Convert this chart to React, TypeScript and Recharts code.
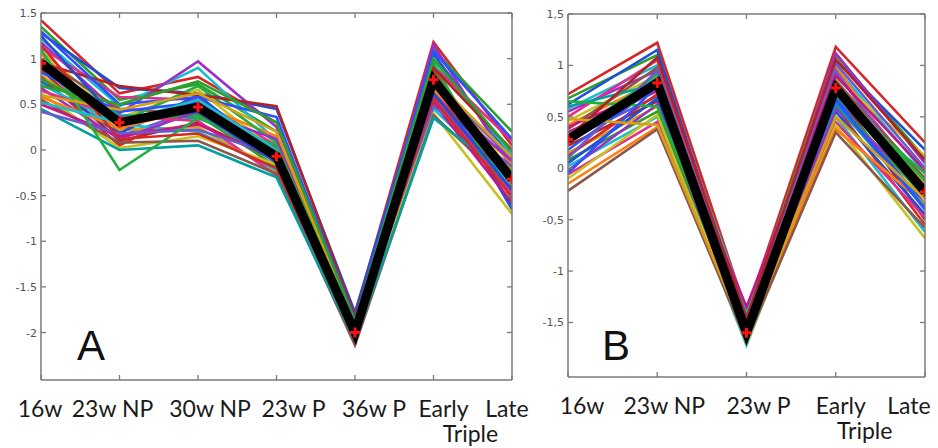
import React from 'react';
import { LineChart, Line, XAxis, YAxis } from 'recharts';

// ---------- data ----------
const categoriesA = ['16w', '23w NP', '30w NP', '23w P', '36w P', 'Early\nTriple', 'Late'];
const categoriesB = ['16w', '23w NP', '23w P', 'Early\nTriple', 'Late'];

const meanA = [0.95, 0.3, 0.47, -0.07, -2.0, 0.77, -0.32];
const meanB = [0.28, 0.83, -1.6, 0.78, -0.23];

const yTicksA = [1.5, 1, 0.5, 0, -0.5, -1, -1.5, -2];
const yTicksB = [1.5, 1, 0.5, 0, -0.5, -1, -1.5];

const profilesA = [
  [1.42, 0.62, 0.8, 0.3, -1.8, 1.18, 0.05],
  [1.35, 0.55, 0.72, 0.2, -1.85, 1.1, 0.2],
  [1.28, 0.68, 0.62, 0.45, -1.78, 1.05, -0.1],
  [1.22, 0.48, 0.9, 0.1, -1.9, 0.98, -0.05],
  [1.18, 0.4, 0.97, 0.25, -1.95, 1.15, -0.2],
  [1.12, 0.58, 0.55, 0.05, -1.88, 0.92, 0.1],
  [1.08, 0.35, 0.66, -0.02, -2.02, 0.85, -0.25],
  [1.05, 0.25, 0.5, 0.15, -1.92, 0.7, -0.15],
  [1.0, 0.45, 0.4, -0.1, -2.05, 0.88, -0.4],
  [0.98, 0.2, 0.58, -0.15, -1.98, 0.8, -0.3],
  [0.95, 0.38, 0.35, 0.0, -2.08, 0.65, -0.45],
  [0.92, 0.15, 0.45, -0.2, -1.96, 0.75, -0.1],
  [0.9, 0.3, 0.7, 0.08, -2.0, 0.95, -0.55],
  [0.88, 0.1, 0.3, -0.12, -2.1, 0.6, -0.35],
  [0.85, 0.42, 0.52, -0.05, -1.94, 0.72, -0.6],
  [0.82, 0.22, 0.25, -0.25, -2.06, 0.55, -0.2],
  [0.8, 0.05, 0.48, 0.02, -1.99, 0.68, -0.5],
  [0.78, 0.32, 0.38, -0.18, -2.04, 0.5, -0.28],
  [0.75, 0.18, 0.6, -0.08, -1.97, 0.82, -0.65],
  [0.72, 0.28, 0.2, -0.22, -2.12, 0.45, -0.38],
  [0.68, 0.12, 0.42, 0.12, -2.01, 0.62, -0.12],
  [0.65, 0.36, 0.32, -0.28, -2.07, 0.58, -0.48],
  [0.62, 0.02, 0.15, -0.16, -2.03, 0.4, -0.7],
  [0.58, 0.24, 0.46, -0.04, -1.93, 0.66, -0.22],
  [0.55, 0.08, 0.1, -0.26, -2.14, 0.38, -0.42],
  [0.5, 0.15, 0.28, -0.1, -2.0, 0.52, -0.58],
  [0.45, 0.0, 0.05, -0.3, -2.09, 0.35, -0.32],
  [0.42, 0.18, 0.22, -0.06, -1.96, 0.48, -0.18],
  [1.1, -0.22, 0.35, 0.05, -1.9, 0.7, -0.25],
  [0.95, 0.7, 0.6, 0.48, -1.82, 0.9, 0.0],
  [1.3, 0.5, 0.58, 0.36, -1.86, 1.08, 0.12],
  [0.6, 0.44, 0.62, 0.2, -1.91, 0.78, -0.08],
  [1.15, 0.12, 0.18, -0.2, -2.05, 0.56, -0.52],
  [0.7, 0.5, 0.75, 0.3, -1.88, 1.0, -0.02],
  [1.25, 0.3, 0.42, -0.14, -2.02, 0.62, -0.44],
  [0.52, 0.3, 0.55, 0.0, -1.95, 0.74, -0.3],
];

const profilesB = [
  [0.72, 1.22, -1.4, 1.18, 0.25],
  [0.68, 1.1, -1.45, 1.1, 0.1],
  [0.62, 1.15, -1.5, 1.05, 0.18],
  [0.58, 1.0, -1.38, 0.98, -0.05],
  [0.55, 0.95, -1.55, 1.12, 0.05],
  [0.5, 1.05, -1.48, 0.92, -0.15],
  [0.46, 0.9, -1.62, 0.88, 0.12],
  [0.42, 0.85, -1.52, 1.0, -0.3],
  [0.38, 0.98, -1.58, 0.85, -0.1],
  [0.35, 0.75, -1.65, 0.8, -0.2],
  [0.32, 0.88, -1.56, 0.72, -0.4],
  [0.28, 0.7, -1.6, 0.95, -0.25],
  [0.25, 0.92, -1.66, 0.7, -0.05],
  [0.22, 0.65, -1.54, 0.76, -0.5],
  [0.18, 0.8, -1.68, 0.68, -0.35],
  [0.15, 0.6, -1.62, 0.82, -0.15],
  [0.12, 0.72, -1.7, 0.6, -0.55],
  [0.08, 0.55, -1.58, 0.65, -0.28],
  [0.05, 0.68, -1.64, 0.55, -0.45],
  [0.02, 0.5, -1.72, 0.5, -0.62],
  [-0.02, 0.62, -1.6, 0.58, -0.2],
  [-0.06, 0.45, -1.66, 0.45, -0.48],
  [-0.1, 0.52, -1.7, 0.42, -0.68],
  [-0.15, 0.4, -1.62, 0.38, -0.35],
  [-0.22, 0.38, -1.68, 0.35, -0.58],
  [0.4, 0.78, -1.35, 0.9, -0.02],
  [0.6, 0.82, -1.44, 0.62, -0.38],
  [0.1, 0.95, -1.5, 1.02, 0.0],
  [0.65, 0.6, -1.52, 0.78, -0.12],
  [0.3, 1.08, -1.46, 1.06, 0.08],
  [-0.05, 0.8, -1.6, 0.66, -0.4],
  [0.48, 0.42, -1.64, 0.5, -0.3],
];

const palette = [
  '#d62728', '#2ca02c', '#1f4fd4', '#17becf', '#9b30c8', '#e0308a',
  '#c8c020', '#ff7f0e', '#8c564b', '#c71585', '#00a0a0', '#6a5acd',
  '#20b040', '#b22222', '#3050ff', '#d4a017',
];

// ---------- helpers ----------
function buildRows(cats: string[], mean: number[], profiles: number[][]) {
  return cats.map((c, i) => {
    const row: any = { x: i, cat: c, mean: mean[i] };
    profiles.forEach((p, j) => {
      row['p' + j] = p[i];
    });
    return row;
  });
}

const AXIS = '#7a7a7a';
const LABEL_FONT = "Lato, 'Open Sans', sans-serif";

const BottomTick = (cats: string[], dxs: number[], dx2: number) => (props: any) => {
  const { x, y, payload } = props;
  const i = payload.value;
  const lines = cats[i].split('\n');
  const dx = dxs[i] || 0;
  return (
    <g>
      <line x1={x} y1={y} x2={x} y2={y - 5} stroke={AXIS} strokeWidth={1.3} />
      <text x={x + dx} y={y + 37} textAnchor="middle" fontFamily={LABEL_FONT} fontSize={23} fill="#1a1a1a">
        {lines[0]}
      </text>
      {lines[1] ? (
        <text x={x + dx2} y={y + 62} textAnchor="middle" fontFamily={LABEL_FONT} fontSize={23} fill="#1a1a1a">
          {lines[1]}
        </text>
      ) : null}
    </g>
  );
};

const TopTick = (props: any) => {
  const { x, y } = props;
  return <line x1={x} y1={y} x2={x} y2={y + 5} stroke={AXIS} strokeWidth={1.3} />;
};

const LeftTick = (sep: string) => (props: any) => {
  const { x, y, payload } = props;
  const label = String(payload.value).replace('.', sep);
  return (
    <g>
      <line x1={x} y1={y} x2={x + 5} y2={y} stroke={AXIS} strokeWidth={1.3} />
      <text x={x - 4} y={y + 4} textAnchor="end" fontFamily="'DejaVu Sans', sans-serif" fontSize={11} fill="#555">
        {label}
      </text>
    </g>
  );
};

const RightTick = (props: any) => {
  const { x, y } = props;
  return <line x1={x} y1={y} x2={x - 5} y2={y} stroke={AXIS} strokeWidth={1.3} />;
};

const RedPlus = (props: any) => {
  const { cx, cy } = props;
  if (cx == null || cy == null) return null;
  return (
    <g>
      <line x1={cx - 5} y1={cy} x2={cx + 5} y2={cy} stroke="#ff1010" strokeWidth={3} />
      <line x1={cx} y1={cy - 5} x2={cx} y2={cy + 5} stroke="#ff1010" strokeWidth={3} />
    </g>
  );
};

type PanelProps = {
  width: number;
  height: number;
  plot: { left: number; top: number; right: number; bottom: number };
  cats: string[];
  labelDx: number[];
  labelDx2: number;
  mean: number[];
  profiles: number[][];
  yTicks: number[];
  yDomain: [number, number];
  sep: string;
};

function Panel({ width, height, plot, cats, labelDx, labelDx2, mean, profiles, yTicks, yDomain, sep }: PanelProps) {
  const rows = buildRows(cats, mean, profiles);
  const xTicks = cats.map((_, i) => i);
  const xDomain: [number, number] = [0, cats.length - 1];
  const margin = {
    top: plot.top - 1,
    left: plot.left - 1,
    right: width - plot.right - 1,
    bottom: height - plot.bottom - 1,
  };
  return (
    <LineChart width={width} height={height} data={rows} margin={margin} style={{ overflow: 'visible' }}>
      <XAxis
        xAxisId="b"
        dataKey="x"
        type="number"
        domain={xDomain}
        ticks={xTicks}
        height={1}
        tickSize={0}
        tickMargin={0}
        tickLine={false}
        axisLine={{ stroke: AXIS, strokeWidth: 1.5 }}
        tick={BottomTick(cats, labelDx, labelDx2)}
        allowDataOverflow
        interval={0}
      />
      <XAxis
        xAxisId="t"
        dataKey="x"
        type="number"
        orientation="top"
        domain={xDomain}
        ticks={xTicks}
        height={1}
        tickSize={0}
        tickMargin={0}
        tickLine={false}
        axisLine={{ stroke: AXIS, strokeWidth: 1.5 }}
        tick={TopTick}
        allowDataOverflow
        interval={0}
      />
      <YAxis
        yAxisId="l"
        type="number"
        domain={yDomain}
        ticks={yTicks}
        width={1}
        tickSize={0}
        tickMargin={0}
        tickLine={false}
        axisLine={{ stroke: AXIS, strokeWidth: 1.5 }}
        tick={LeftTick(sep)}
        allowDataOverflow
        interval={0}
      />
      <YAxis
        yAxisId="r"
        type="number"
        orientation="right"
        domain={yDomain}
        ticks={yTicks}
        width={1}
        tickSize={0}
        tickMargin={0}
        tickLine={false}
        axisLine={{ stroke: AXIS, strokeWidth: 1.5 }}
        tick={RightTick}
        allowDataOverflow
        interval={0}
      />
      {profiles.map((_, j) => (
        <Line
          key={'p' + j}
          xAxisId="b"
          yAxisId="l"
          dataKey={'p' + j}
          type="linear"
          stroke={palette[j % palette.length]}
          strokeWidth={2.6}
          dot={false}
          activeDot={false}
          isAnimationActive={false}
        />
      ))}
      <Line
        xAxisId="b"
        yAxisId="l"
        dataKey="mean"
        type="linear"
        stroke="#000"
        strokeWidth={9}
        strokeLinejoin="miter"
        dot={<RedPlus />}
        activeDot={false}
        isAnimationActive={false}
      />
    </LineChart>
  );
}

export default function App() {
  return (
    <div style={{ position: 'absolute', left: 0, top: 0, width: 938, height: 448, background: '#fff', overflow: 'hidden' }}>
      <div style={{ position: 'absolute', left: 0, top: 0 }}>
        <Panel
          width={540}
          height={448}
          plot={{ left: 41, top: 13, right: 512, bottom: 380 }}
          cats={categoriesA}
          labelDx={[-1, -7, 12, 17, 19, 10, -5]}
          labelDx2={37}
          mean={meanA}
          profiles={profilesA}
          yTicks={yTicksA}
          yDomain={[-2.52, 1.5]}
          sep="."
        />
      </div>
      <div style={{ position: 'absolute', left: 540, top: 0 }}>
        <Panel
          width={398}
          height={448}
          plot={{ left: 28, top: 14, right: 385, bottom: 377 }}
          cats={categoriesB}
          labelDx={[14, 7, 12, 5, -16]}
          labelDx2={29}
          mean={meanB}
          profiles={profilesB}
          yTicks={yTicksB}
          yDomain={[-2.03, 1.5]}
          sep=","
        />
      </div>
      <svg width={938} height={448} style={{ position: 'absolute', left: 0, top: 0, pointerEvents: 'none' }}>
        <text x={77} y={360} fontFamily="'Liberation Sans', Arial, sans-serif" fontSize={42} fill="#111">A</text>
        <text x={602} y={360} fontFamily="'Liberation Sans', Arial, sans-serif" fontSize={42} fill="#111">B</text>
      </svg>
    </div>
  );
}
